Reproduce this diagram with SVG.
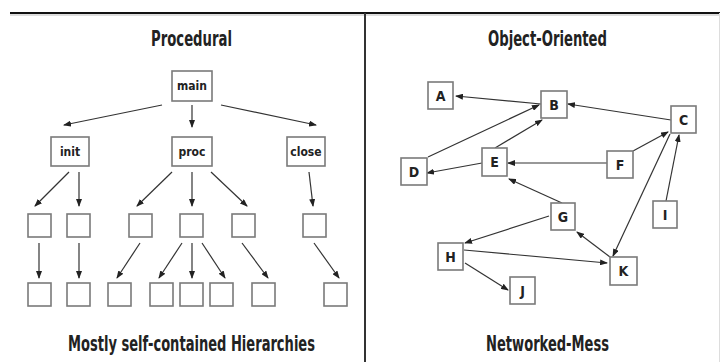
<svg xmlns="http://www.w3.org/2000/svg" width="720" height="362" viewBox="0 0 720 362">
<defs>
<style>
.bx{fill:#fff;stroke:#7a7a7a;stroke-width:1.6}
.ln{fill:none;stroke:#333;stroke-width:1.2;marker-end:url(#ah)}
.t{font-family:"DejaVu Sans Condensed","Liberation Sans",sans-serif;font-weight:bold;fill:#222;text-anchor:middle}
.title{font-size:22px}
.lbl{font-size:12px}
.ltr{font-size:14px}
</style>
<marker id="ah" markerUnits="userSpaceOnUse" markerWidth="8" markerHeight="6" refX="7" refY="3" orient="auto">
<path d="M0,0 L8,3 L0,6 z" fill="#222"/>
</marker>
</defs>
<rect width="720" height="362" fill="#fff"/>
<g id="frame">
<line x1="10" y1="13" x2="720" y2="13" stroke="#111" stroke-width="2"/>
<line x1="10" y1="15" x2="720" y2="15" stroke="#bbb" stroke-width="1"/>
<line x1="365" y1="13" x2="365" y2="362" stroke="#333" stroke-width="2"/>
<line x1="719.5" y1="13" x2="719.5" y2="362" stroke="#ddd" stroke-width="1"/>
</g>
<g id="titles">
<text class="t title" x="191.5" y="46" textLength="81" lengthAdjust="spacingAndGlyphs">Procedural</text>
<text class="t title" x="191.5" y="351" textLength="247" lengthAdjust="spacingAndGlyphs">Mostly self-contained Hierarchies</text>
<text class="t title" x="547.5" y="46" textLength="119" lengthAdjust="spacingAndGlyphs">Object-Oriented</text>
<text class="t title" x="547.5" y="351" textLength="123" lengthAdjust="spacingAndGlyphs">Networked-Mess</text>
</g>
<g id="connectors">
<line class="ln" x1="162" y1="105" x2="64" y2="125"/>
<line class="ln" x1="192" y1="105" x2="192" y2="127"/>
<line class="ln" x1="221" y1="105" x2="316" y2="125"/>
<line class="ln" x1="69" y1="172" x2="35" y2="206"/>
<line class="ln" x1="79" y1="172" x2="79" y2="206"/>
<line class="ln" x1="172" y1="172" x2="137" y2="206"/>
<line class="ln" x1="192" y1="172" x2="192" y2="206"/>
<line class="ln" x1="211" y1="172" x2="247" y2="206"/>
<line class="ln" x1="309" y1="172" x2="313" y2="206"/>
<line class="ln" x1="39" y1="243" x2="39" y2="278"/>
<line class="ln" x1="79" y1="243" x2="79" y2="278"/>
<line class="ln" x1="140" y1="243" x2="117" y2="278"/>
<line class="ln" x1="182" y1="243" x2="159" y2="278"/>
<line class="ln" x1="192" y1="243" x2="192" y2="278"/>
<line class="ln" x1="202" y1="243" x2="225" y2="278"/>
<line class="ln" x1="242" y1="243" x2="268" y2="278"/>
<line class="ln" x1="314" y1="243" x2="339" y2="278"/>
<line class="ln" x1="541" y1="104" x2="456" y2="96"/>
<line class="ln" x1="428" y1="157" x2="539" y2="105"/>
<line class="ln" x1="495" y1="148" x2="542" y2="120"/>
<line class="ln" x1="482" y1="163" x2="427" y2="173"/>
<line class="ln" x1="607" y1="163" x2="508" y2="163"/>
<line class="ln" x1="562" y1="203" x2="509" y2="179"/>
<line class="ln" x1="671" y1="120" x2="568" y2="104"/>
<line class="ln" x1="633" y1="151" x2="668" y2="132"/>
<line class="ln" x1="670" y1="134" x2="613" y2="256"/>
<line class="ln" x1="666" y1="201" x2="679" y2="135"/>
<line class="ln" x1="549" y1="216" x2="465" y2="243"/>
<line class="ln" x1="610" y1="257" x2="577" y2="232"/>
<line class="ln" x1="464" y1="250" x2="607" y2="263"/>
<line class="ln" x1="465" y1="263" x2="508" y2="290"/>
</g>
<g id="main"><rect class="bx" x="172" y="71" width="40" height="30"/><text class="t lbl" x="192" y="90">main</text></g>
<g id="init"><rect class="bx" x="51" y="137" width="38" height="29"/><text class="t lbl" x="70" y="156">init</text></g>
<g id="proc"><rect class="bx" x="172" y="137" width="40" height="29"/><text class="t lbl" x="192" y="156">proc</text></g>
<g id="close"><rect class="bx" x="287" y="137" width="38" height="29"/><text class="t lbl" x="306" y="156">close</text></g>
<g id="r1a"><rect class="bx" x="28" y="214" width="23" height="23"/></g>
<g id="r1b"><rect class="bx" x="67" y="214" width="23" height="23"/></g>
<g id="r1c"><rect class="bx" x="129" y="214" width="23" height="23"/></g>
<g id="r1d"><rect class="bx" x="180" y="214" width="23" height="23"/></g>
<g id="r1e"><rect class="bx" x="232" y="214" width="23" height="23"/></g>
<g id="r1f"><rect class="bx" x="303" y="214" width="23" height="23"/></g>
<g id="r2a"><rect class="bx" x="28" y="283" width="23" height="23"/></g>
<g id="r2b"><rect class="bx" x="67" y="283" width="23" height="23"/></g>
<g id="r2c"><rect class="bx" x="108" y="283" width="23" height="23"/></g>
<g id="r2d"><rect class="bx" x="150" y="283" width="23" height="23"/></g>
<g id="r2e"><rect class="bx" x="180" y="283" width="23" height="23"/></g>
<g id="r2f"><rect class="bx" x="210" y="283" width="23" height="23"/></g>
<g id="r2g"><rect class="bx" x="252" y="283" width="23" height="23"/></g>
<g id="r2h"><rect class="bx" x="324" y="283" width="23" height="23"/></g>
<g id="A"><rect class="bx" x="428" y="82" width="25" height="27"/><text class="t ltr" x="440.5" y="101">A</text></g>
<g id="B"><rect class="bx" x="541" y="91" width="26" height="27"/><text class="t ltr" x="554" y="110">B</text></g>
<g id="C"><rect class="bx" x="671" y="106" width="25" height="27"/><text class="t ltr" x="683.5" y="125">C</text></g>
<g id="D"><rect class="bx" x="401" y="158" width="26" height="27"/><text class="t ltr" x="414" y="177">D</text></g>
<g id="E"><rect class="bx" x="482" y="148" width="25" height="28"/><text class="t ltr" x="494.5" y="167">E</text></g>
<g id="F"><rect class="bx" x="607" y="151" width="26" height="27"/><text class="t ltr" x="620" y="170">F</text></g>
<g id="G"><rect class="bx" x="551" y="203" width="24" height="27"/><text class="t ltr" x="563" y="222">G</text></g>
<g id="H"><rect class="bx" x="438" y="243" width="25" height="27"/><text class="t ltr" x="450.5" y="262">H</text></g>
<g id="I"><rect class="bx" x="653" y="201" width="24" height="27"/><text class="t ltr" x="665" y="220">I</text></g>
<g id="J"><rect class="bx" x="510" y="277" width="25" height="27"/><text class="t ltr" x="522.5" y="296">J</text></g>
<g id="K"><rect class="bx" x="610" y="257" width="27" height="28"/><text class="t ltr" x="623.5" y="276">K</text></g>
</svg>
